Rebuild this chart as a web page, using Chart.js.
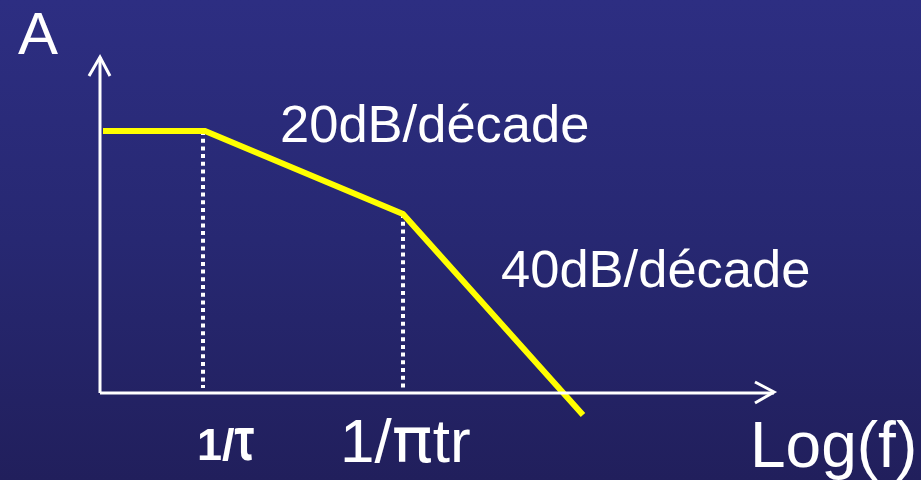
<!DOCTYPE html>
<html>
<head>
<meta charset="utf-8">
<script src="https://cdn.jsdelivr.net/npm/chart.js@4.4.1/dist/chart.umd.min.js"></script>
<style>
    html, body { margin: 0; padding: 0; }
    body {
        width: 921px;
        height: 480px;
        background: linear-gradient(to bottom, #2d2e82 0%, #272872 50%, #211f5c 100%);
        overflow: hidden;
    }
    #wrap { position: relative; width: 921px; height: 480px; }
    canvas { display: block; }
</style>
</head>
<body>
<div id="wrap"><canvas id="bodeChart" width="921" height="480"></canvas></div>
<script>
// Asymptotic response: x = log(f) in decades, y = gain (arbitrary dB units)
const responseX = [0.03, 1.05, 3.03, 4.83];
const responseY = [26.2, 26.2, 17.9, -2.2];

// Corner frequencies (dotted markers)
const cornerX = [1.03, 3.03];
const cornerY = [26.2, 17.9];

// Axes extents
const axisXEnd = 6.74;
const axisYEnd = 33.6;

// Text on the figure
const slopeLabels = ['20dB/décade', '40dB/décade'];
const tickLabels = ['1/τ', '1/πtr'];
const axisLabels = ['A', 'Log(f)'];

function pts(xs, ys) {
    return xs.map((x, i) => ({ x: x, y: ys[i] }));
}

const datasets = [];

// axes on top
datasets.push({
    data: [{ x: 0, y: 0 }, { x: axisXEnd, y: 0 }],
    borderColor: '#ffffff', borderWidth: 3, order: 0
});
datasets.push({
    data: [{ x: 0, y: 0 }, { x: 0, y: axisYEnd }],
    borderColor: '#ffffff', borderWidth: 3, order: 0
});
// arrow heads
datasets.push({
    data: [{ x: -0.11, y: axisYEnd - 1.9 }, { x: 0, y: axisYEnd }, { x: 0.10, y: axisYEnd - 1.9 }],
    borderColor: '#ffffff', borderWidth: 3, order: 0
});
datasets.push({
    data: [{ x: axisXEnd - 0.19, y: 1.1 }, { x: axisXEnd, y: 0.1 }, { x: axisXEnd - 0.19, y: -1.0 }],
    borderColor: '#ffffff', borderWidth: 3, order: 0
});

// yellow asymptotes
datasets.push({
    data: pts(responseX, responseY),
    borderColor: '#ffff00', borderWidth: 6, order: 1
});

// dotted verticals
for (let i = 0; i < cornerX.length; i++) {
    datasets.push({
        data: [{ x: cornerX[i], y: cornerY[i] }, { x: cornerX[i], y: 0.5 }],
        borderColor: '#ffffff', borderWidth: 4, borderDash: [4, 3.7], order: 2
    });
}

// plugin that writes the texts at data coordinates
// a text can be split in parts, each with its own font / horizontal squeeze
const textPlugin = {
    id: 'figTexts',
    afterDatasetsDraw(chart, args, opts) {
        const c = chart.ctx;
        const xs = chart.scales.x, ys = chart.scales.y;
        c.save();
        c.fillStyle = '#ffffff';
        c.textBaseline = 'alphabetic';
        c.textAlign = 'left';
        opts.items.forEach(it => {
            let px = xs.getPixelForValue(it.x);
            const py = ys.getPixelForValue(it.y);
            const parts = it.parts || [{ text: it.text, font: it.font }];
            parts.forEach(p => {
                const sx = p.sx || 1;
                c.font = p.font;
                c.save();
                c.translate(px, py);
                c.scale(sx, 1);
                c.fillText(p.text, 0, 0);
                c.restore();
                px += c.measureText(p.text).width * sx;
            });
        });
        c.restore();
    }
};

const sans = '"Liberation Sans", Arial, sans-serif';

const ctx = document.getElementById('bodeChart').getContext('2d');
const chart = new Chart(ctx, {
    type: 'line',
    data: { datasets: datasets },
    options: {
        responsive: false,
        animation: false,
        maintainAspectRatio: false,
        layout: { padding: 0 },
        elements: {
            point: { radius: 0, hoverRadius: 0 },
            line: { tension: 0, borderCapStyle: 'butt', borderJoinStyle: 'miter', fill: false }
        },
        scales: {
            x: { type: 'linear', min: -1, max: 8.21, display: false },
            y: { type: 'linear', min: -8.7, max: 39.3, display: false }
        },
        plugins: {
            legend: { display: false },
            tooltip: { enabled: false },
            figTexts: {
                items: [
                    { text: axisLabels[0], x: -0.82, y: 33.9, font: '60px ' + sans },
                    { text: slopeLabels[0], x: 1.80, y: 25.1, font: '52.5px ' + sans },
                    { text: slopeLabels[1], x: 4.01, y: 10.6, font: '52.5px ' + sans },
                    {
                        x: 0.97, y: -6.7,
                        parts: [
                            { text: tickLabels[0].slice(0, 2), font: 'bold 45px ' + sans },
                            { text: tickLabels[0].slice(2), font: 'bold 62px ' + sans, sx: 0.72 }
                        ]
                    },
                    {
                        x: 2.40, y: -6.9,
                        parts: [
                            { text: tickLabels[1].slice(0, 2), font: '62px ' + sans },
                            { text: tickLabels[1].slice(2, 3), font: '62px "DejaVu Sans", ' + sans, sx: 1.1 },
                            { text: tickLabels[1].slice(3), font: '62px ' + sans }
                        ]
                    },
                    { text: axisLabels[1], x: 6.50, y: -7.4, font: '64px ' + sans }
                ]
            }
        }
    },
    plugins: [textPlugin]
});
</script>
</body>
</html>
